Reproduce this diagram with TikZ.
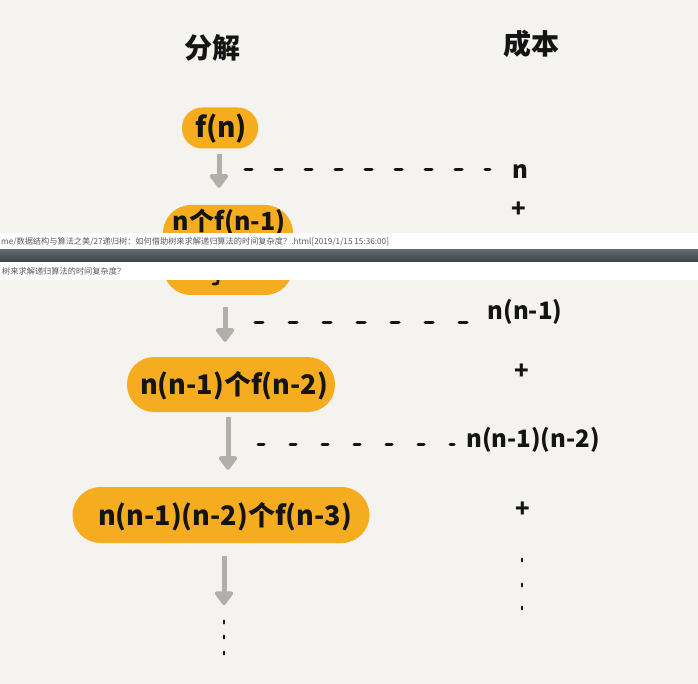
\documentclass[tikz,border=0pt]{standalone}
\usepackage{fontspec}
\newfontfamily\cjk{Noto Sans CJK SC}
\usetikzlibrary{arrows.meta}
\definecolor{bg}{HTML}{F5F3EF}
\definecolor{blob}{HTML}{F5AD1F}
\definecolor{agray}{HTML}{B2AEA9}
\definecolor{ink}{HTML}{141414}
\definecolor{striptop}{HTML}{63676A}
\definecolor{stripbot}{HTML}{3F4346}
\definecolor{striptext}{HTML}{5A5A5A}
\begin{document}
\begin{tikzpicture}[x=1pt,y=-1pt,
  blobshape/.style={fill=blob, rectangle, inner sep=0pt},
  blobtext/.style={font=\cjk\bfseries\fontsize{27}{33}\selectfont, text=ink, inner sep=0pt},
  costtext/.style={font=\cjk\bfseries\fontsize{24}{30}\selectfont, text=ink, inner sep=0pt},
  headtext/.style={font=\cjk\bfseries\fontsize{28}{34}\selectfont, text=ink, inner sep=0pt},
  garrow/.style={draw=agray, line width=5pt, -{Triangle[width=21pt,length=15pt,round]}},
  dashline/.style={draw=ink, line width=3pt, line cap=round},
  dotmark/.style={draw=ink, line width=2.8pt, line cap=round},
  striptxt/.style={font=\cjk\fontsize{8.2}{10}\selectfont, text=striptext, inner sep=0pt, anchor=west}]

\fill[bg] (0,0) rectangle (698,684);
\useasboundingbox (0,0) rectangle (698,684);

% headings
\node[headtext] (h1) at (212,48) {分解};
\node[headtext] (h2) at (531,44) {成本};

% blobs
\node[blobshape, minimum width=76pt, minimum height=41pt, rounded corners=20pt] (b1) at (220,128) {};
\node[blobtext, font=\cjk\bfseries\fontsize{28}{34}\selectfont] (t1) at (221,129) {f(n)};

\node[blobshape, minimum width=130pt, minimum height=90pt, rounded corners=28pt] (b2) at (228,250) {};
\node[blobtext, font=\cjk\bfseries\fontsize{25}{31}\selectfont] (t2) at (229,222) {n个f(n-1)};

\node[blobshape, minimum width=208pt, minimum height=55pt, rounded corners=27pt] (b3) at (231,384.5) {};
\node[blobtext] (t3) at (234,386) {n(n-1)个f(n-2)};

\node[blobshape, minimum width=297pt, minimum height=56pt, rounded corners=28pt] (b4) at (221,515) {};
\node[blobtext] (t4) at (225,517) {n(n-1)(n-2)个f(n-3)};

% costs
\node[costtext] (c1) at (520,172) {n};
\node[costtext] (p1) at (519,210) {+};
\node[costtext] (c2) at (525,312) {n(n-1)};
\node[costtext] (p2) at (522,372) {+};
\node[costtext] (c3) at (533,440) {n(n-1)(n-2)};
\node[costtext] (p3) at (523,510) {+};

% arrows
\coordinate (e4) at (224,605);
\draw[garrow, shorten <=5pt, shorten >=17pt] ([xshift=-1pt]b1.south) -- ([xshift=-9pt]b2.north);
\draw[garrow, shorten <=12pt, shorten >=15pt] ([xshift=-3pt]b2.south) -- ([xshift=-6pt]b3.north);
\draw[garrow, shorten <=5pt, shorten >=17pt] ([xshift=-3pt]b3.south) -- ([xshift=7pt]b4.north);
\draw[garrow, shorten <=13pt] ([xshift=3pt]b4.south) -- (e4);

% dashed cost lines
\coordinate (d1) at (245,170);
\coordinate (d2) at (255,322);
\coordinate (d3) at (258,444);
\draw[dashline, dash pattern=on 7pt off 23pt, shorten >=22pt] (d1) -- (d1 -| c1.west);
\draw[dashline, dash pattern=on 8pt off 26pt, shorten >=20pt] (d2) -- (d2 -| c2.west);
\draw[dashline, dash pattern=on 6pt off 26pt, shorten >=12pt] (d3) -- (d3 -| c3.west);

% continuation dots
\foreach \yy in {622,637,653} \draw[dotmark] (224,\yy-1.2) -- (224,\yy+1.2);
\foreach \yy in {560,585,608} \draw[dotmark] (522,\yy-1.2) -- (522,\yy+1.2);

% glyph fragments of the second screenshot
\draw[dotmark] (201,263) -- (201,277);
\draw[dotmark] (218,263) -- (218,279) .. controls (218,284) .. (213,284);

% browser strip
\fill[white] (0,233) rectangle (698,250);
\shade[top color=striptop, bottom color=stripbot] (0,250) rectangle (698,262);
\fill[white] (0,262) rectangle (698,280);
\node[striptxt] (s1) at (1,242) {me/数据结构与算法之美/27递归树：如何借助树来求解递归算法的时间复杂度？.html[2019/1/15 15:36:00]};
\node[striptxt] (s2) at (2,271) {树来求解递归算法的时间复杂度？};
\end{tikzpicture}
\end{document}
